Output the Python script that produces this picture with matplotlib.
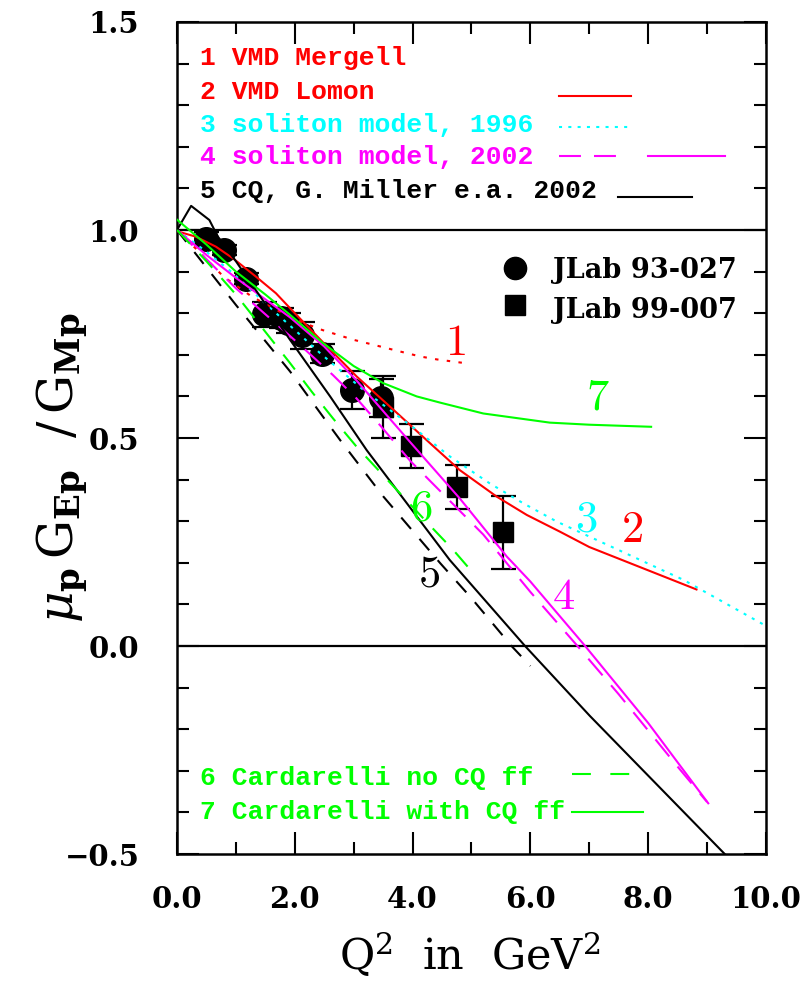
#!/usr/bin/env python3
"""
Proton form factor ratio mu_p G_Ep / G_Mp vs Q^2: JLab data and model curves
"""

import matplotlib
matplotlib.use('Agg')
import matplotlib.pyplot as plt
from matplotlib.ticker import FuncFormatter
import numpy as np

plt.rcParams['mathtext.fontset'] = 'dejavuserif'
plt.rcParams['lines.scale_dashes'] = False

# JLab 93-027 (circles)
q2_93 = [0.49, 0.79, 1.18, 1.48, 1.77, 1.88, 2.13, 2.47, 2.97, 3.47]
r_93 = [0.979, 0.951, 0.883, 0.798, 0.789, 0.777, 0.747, 0.703, 0.615, 0.596]
e_93 = [0.016, 0.012, 0.013, 0.030, 0.024, 0.024, 0.032, 0.023, 0.045, 0.046]

# JLab 99-007 (squares)
q2_99 = [3.50, 3.97, 4.75, 5.54]
r_99 = [0.575, 0.481, 0.382, 0.273]
e_99 = [0.075, 0.052, 0.053, 0.087]

# 1 VMD Mergell
x1 = [0.0, 0.4, 0.79, 1.27, 1.7, 2.09, 2.46, 3.0, 3.34, 3.73, 4.13, 4.41, 4.89]
y1 = [1.0, 0.944, 0.888, 0.84, 0.807, 0.78, 0.76, 0.736, 0.724, 0.71, 0.696, 0.689, 0.68]

# 2 VMD Lomon
x2 = [0.0, 0.32, 0.66, 0.95, 1.34, 1.68, 2.0, 2.48, 3.05, 3.62, 4.3, 4.8, 5.43, 5.94, 6.5, 7.0, 8.82]
y2 = [0.997, 0.984, 0.96, 0.932, 0.888, 0.848, 0.80, 0.73, 0.648, 0.575, 0.487, 0.423, 0.359, 0.315, 0.275, 0.238, 0.136]

# 3 soliton model, 1996
x3 = [0.0, 0.46, 0.92, 1.62, 2.03, 2.43, 3.17, 3.62, 4.07, 4.64, 5.31, 5.88, 6.45, 7.74, 8.6, 9.98]
y3 = [1.0, 0.952, 0.9, 0.808, 0.756, 0.704, 0.615, 0.567, 0.519, 0.455, 0.391, 0.343, 0.299, 0.215, 0.159, 0.05]

# 4 soliton model, 2002 (solid and dashed)
x4s = [0.0, 0.5, 1.0, 1.92, 2.5, 3.05, 3.96, 4.8, 5.6, 6.0, 6.93, 8.0, 9.02]
y4s = [1.0, 0.94, 0.885, 0.79, 0.72, 0.638, 0.49, 0.355, 0.215, 0.155, 0.0, -0.185, -0.378]
x4d = [0.0, 0.5, 1.0, 2.0, 2.65, 3.05, 3.47, 3.96, 5.2, 6.0, 6.8, 7.5, 8.5, 9.0]
y4d = [1.0, 0.93, 0.86, 0.735, 0.651, 0.595, 0.527, 0.445, 0.268, 0.13, 0.0, -0.116, -0.29, -0.375]

# 5 CQ, G. Miller (solid and dashed)
x5s = [0.0, 0.24, 0.55, 0.69, 1.0, 1.92, 2.6, 3.22, 4.63, 5.91, 7.01, 9.3]
y5s = [1.0, 1.058, 1.024, 0.985, 0.925, 0.736, 0.6, 0.471, 0.207, 0.0, -0.168, -0.5]
x5d = [0.0, 1.0, 1.92, 2.48, 2.77, 3.5, 4.47, 5.0, 5.68, 6.0]
y5d = [1.0, 0.82, 0.66, 0.551, 0.495, 0.36, 0.199, 0.115, 0.0, -0.048]

# 6 Cardarelli no CQ ff
x6 = [0.0, 0.5, 1.0, 1.92, 2.29, 2.65, 3.05, 4.3, 4.69, 4.94]
y6 = [1.0, 0.925, 0.845, 0.68, 0.611, 0.547, 0.479, 0.289, 0.231, 0.19]

# 7 Cardarelli with CQ ff
x7 = [0.0, 0.5, 1.0, 1.5, 1.92, 2.48, 3.0, 3.5, 4.07, 4.47, 5.2, 6.33, 7.0, 8.05]
y7 = [1.025, 0.965, 0.9, 0.845, 0.796, 0.728, 0.673, 0.632, 0.600, 0.585, 0.559, 0.537, 0.532, 0.527]

RED, CYAN, MAG, GREEN, BLACK = '#ff0000', '#00ffff', '#ff00ff', '#00ff00', '#000000'
LEG_FONT = dict(family='Liberation Mono', fontsize=19, fontweight='bold')
TICK_FONT = dict(family='DejaVu Serif', size=21, weight='bold')


def plot_ratio():
    fig = plt.figure(figsize=(8.03, 9.82), dpi=100)
    ax = fig.add_axes([0.2204, 0.1303, 0.7335, 0.8473])

    # data points (under the curves)
    ax.errorbar(q2_93, r_93, yerr=e_93, fmt='o', color=BLACK, ms=17,
                elinewidth=1.6, capsize=9, capthick=1.6, zorder=2)
    ax.errorbar(q2_99, r_99, yerr=e_99, fmt='s', color=BLACK, ms=14.5,
                elinewidth=1.6, capsize=9, capthick=1.6, zorder=2)

    lw = 1.5
    ax.plot(x1, y1, color=RED, lw=lw, dashes=(2.5, 6), zorder=3)
    ax.plot(x2, y2, color=RED, lw=lw, zorder=3)
    ax.plot(x3, y3, color=CYAN, lw=lw, dashes=(2.2, 4.5), zorder=3)
    ax.plot(x4s, y4s, color=MAG, lw=lw, zorder=3)
    ax.plot(x4d, y4d, color=MAG, lw=lw, dashes=(15.8, 9.4), zorder=3)
    ax.plot(x5s, y5s, color=BLACK, lw=lw, zorder=3)
    ax.plot(x5d, y5d, color=BLACK, lw=lw, dashes=(10.8, 9.4), zorder=3)
    ax.plot(x6, y6, color=GREEN, lw=lw, dashes=(13.6, 10), zorder=3)
    ax.plot(x7, y7, color=GREEN, lw=lw, zorder=3)

    ax.axhline(1.0, color=BLACK, lw=1.6, zorder=1)
    ax.axhline(0.0, color=BLACK, lw=1.6, zorder=1)

    # curve numbers
    labels = [('1', 4.72, 0.729, RED), ('2', 7.73, 0.279, RED),
              ('3', 6.94, 0.305, CYAN), ('4', 6.57, 0.119, MAG),
              ('5', 4.28, 0.173, BLACK), ('6', 4.14, 0.331, GREEN),
              ('7', 7.14, 0.599, GREEN)]
    for txt, x, y, c in labels:
        ax.text(x, y, '$' + txt + '$', color=c, fontsize=32, math_fontfamily='cm',
                ha='center', va='center', zorder=4)

    # model legend (text, then line sample)
    tr = ax.transAxes
    top_rows = [('1 VMD Mergell', RED, 0.9564),
                ('2 VMD Lomon', RED, 0.9153),
                ('3 soliton model, 1996', CYAN, 0.8762),
                ('4 soliton model, 2002', MAG, 0.8377),
                ('5 CQ, G. Miller e.a. 2002', BLACK, 0.7969),
                ('6 Cardarelli no CQ ff', GREEN, 0.0913),
                ('7 Cardarelli with CQ ff', GREEN, 0.0508)]
    for txt, c, y in top_rows:
        ax.text(0.039, y, txt, color=c, transform=tr, ha='left', va='center', **LEG_FONT)

    ax.plot([0.6486, 0.7708], [0.9114, 0.9114], color=RED, lw=lw, transform=tr)
    ax.plot([0.6486, 0.7657], [0.8742, 0.8742], color=CYAN, lw=lw, dashes=(2.2, 4.5), transform=tr)
    ax.plot([0.6486, 0.7487], [0.8393, 0.8393], color=MAG, lw=lw, dashes=(15.8, 9.4), transform=tr)
    ax.plot([0.7997, 0.9304], [0.8393, 0.8393], color=MAG, lw=lw, transform=tr)
    ax.plot([0.7487, 0.8744], [0.7891, 0.7891], color=BLACK, lw=lw, transform=tr)
    ax.plot([0.6701, 0.7691], [0.0962, 0.0962], color=GREEN, lw=lw, dashes=(13.6, 14), transform=tr)
    ax.plot([0.6701, 0.7917], [0.0508, 0.0508], color=GREEN, lw=lw, transform=tr)

    # data legend
    ax.plot([0.5739], [0.7043], 'o', color=BLACK, ms=16, transform=tr)
    ax.plot([0.5739], [0.6599], 's', color=BLACK, ms=14, transform=tr)
    ax.text(0.6384, 0.7019, 'JLab 93-027', transform=tr, ha='left', va='center',
            family='DejaVu Serif', fontsize=19.5, fontweight='bold')
    ax.text(0.6384, 0.6538, 'JLab 99-007', transform=tr, ha='left', va='center',
            family='DejaVu Serif', fontsize=19.5, fontweight='bold')

    # axes
    ax.set_xlim(0, 10)
    ax.set_ylim(-0.5, 1.5)
    ax.set_xticks(np.arange(0, 10.1, 2))
    ax.set_xticks(np.arange(0, 10.1, 1), minor=True)
    ax.set_yticks(np.arange(-0.5, 1.51, 0.5))
    ax.set_yticks(np.arange(-0.5, 1.51, 0.1), minor=True)
    fmt = FuncFormatter(lambda v, p: f'{v:.1f}'.replace('-', '\u2212'))
    ax.xaxis.set_major_formatter(fmt)
    ax.yaxis.set_major_formatter(fmt)
    ax.tick_params(which='both', direction='in', top=True, right=True, width=1.5)
    ax.tick_params(which='major', length=15.6)
    ax.tick_params(which='minor', length=8.4)
    ax.tick_params(axis='x', pad=22)
    ax.tick_params(axis='y', pad=27)
    for lab in ax.get_xticklabels() + ax.get_yticklabels():
        lab.set_fontfamily(TICK_FONT['family'])
        lab.set_fontsize(TICK_FONT['size'])
        lab.set_fontweight(TICK_FONT['weight'])
    for sp in ax.spines.values():
        sp.set_linewidth(1.8)

    ax.set_xlabel('Q$^2$  in  GeV$^2$', family='DejaVu Serif', fontsize=31)
    ax.xaxis.set_label_coords(0.497, -0.092)
    ax.set_ylabel(r'$\mu_{\mathbf{p}}\,\mathrm{G}_{\mathbf{Ep}}\ \ /\,\mathrm{G}_{\mathbf{Mp}}$',
                  fontsize=35)
    ax.yaxis.set_label_coords(-0.148, 0.465)

    fig.savefig('out.png', dpi=100, facecolor='white')


if __name__ == '__main__':
    plot_ratio()
